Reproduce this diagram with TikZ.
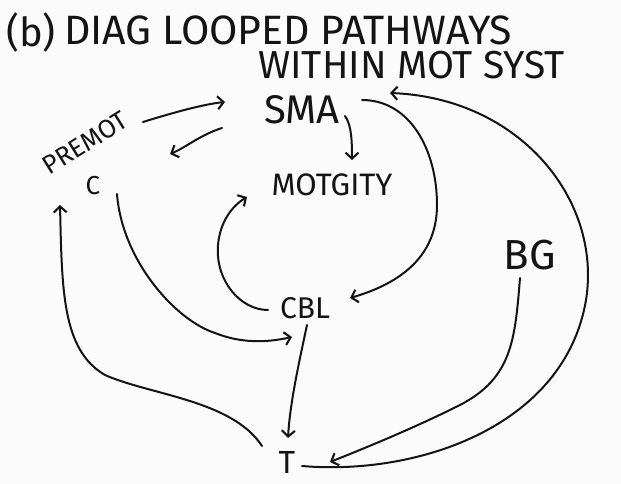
\documentclass[tikz,border=0pt]{standalone}
\usepackage{fontspec}
\setmainfont{Fira Sans}
\usetikzlibrary{arrows.meta,calc}

\definecolor{ink}{HTML}{141414}
\definecolor{paper}{HTML}{FBFBFB}

\tikzset{
  lbl/.style={inner sep=0pt, text=ink},
  penline/.style={draw=ink, line width=2pt, line cap=round, line join=round},
  arr/.style={penline, -{Straight Barb[length=6pt,width=13pt,line width=2.1pt]}},
}
\newcommand{\fs}[1]{\fontsize{#1}{#1}\selectfont}

\begin{document}
\begin{tikzpicture}[x=1pt,y=-1pt]
  \fill[paper] (0,0) rectangle (621,484);
  \useasboundingbox (0,0) rectangle (621,484);

  % heading
  \node[lbl, anchor=west] (badge)  at (6,33)   {\fs{40}(b)};
  \node[lbl, anchor=west] (title1) at (64,30)  {\fs{41}DIAG LOOPED PATHWAYS};
  \node[lbl, anchor=west] (title2) at (258,65) {\fs{39}WITHIN MOT SYST};

  % regions of the motor system
  \node[lbl] (sma)     at (302,110) {\fs{40}SMA};
  \node[lbl, rotate=32] (premot) at (85,143) {\fs{26}PREMOT};
  \node[lbl] (premotc) at (93,186) {\fs{26}C};
  \node[lbl] (motg)    at (332,185) {\fs{31}MOTGITY};
  \node[lbl] (cbl)     at (305,308) {\fs{30}CBL};
  \node[lbl] (bg)      at (530,255) {\fs{42}BG};
  \node[lbl] (thal)    at (287,462) {\fs{32}T};

  % premotor <-> SMA
  \draw[arr] ($(premot)+(58,-21)$) .. controls ($(premot)+(90,-31)$) and ($(sma)+(-97,-6)$) .. ($(sma)+(-77,-8)$);
  \draw[arr] ($(sma)+(-80,18)$) .. controls ($(sma)+(-102,25)$) and ($(premot)+(100,5)$) .. ($(premot)+(85,11)$);

  % SMA -> motor activity
  \draw[arr] ($(sma)+(43,6)$) .. controls ($(sma)+(50,15)$) and ($(motg)+(20,-40)$) .. ($(motg)+(20,-25)$);

  % SMA -> cerebellum
  \draw[arr] ($(sma)+(60,-10)$) .. controls (410,100) and (437,150) .. (437,205)
             .. controls (437,260) and (395,285) .. ($(cbl)+(45,-10)$);

  % cerebellum -> motor activity
  \draw[arr] ($(cbl)+(-37,2)$) .. controls (240,310) and (215,280) .. (218,245)
             .. controls (220,222) and (232,206) .. ($(motg)+(-85,12)$);

  % premotor -> cerebellum
  \draw[arr] ($(premotc)+(24,8)$) .. controls (122,260) and (175,320) .. (215,333)
             .. controls (240,343) and (265,343) .. ($(cbl)+(-13,29)$);

  % cerebellum -> thalamus
  \draw[arr] ($(cbl)+(2,17)$) .. controls ($(cbl)+(-5,50)$) and ($(thal)+(3,-60)$) .. ($(thal)+(1,-24)$);

  % thalamus -> premotor
  \draw[arr] ($(thal)+(-25,-16)$) .. controls (232,400) and (150,395) .. (105,375)
             .. controls (62,350) and (62,290) .. ($(premotc)+(-33,19)$);

  % basal ganglia -> thalamus
  \draw[arr] ($(bg)+(-10,23)$) .. controls (515,340) and (512,378) .. (460,405)
             .. controls (410,430) and (360,450) .. ($(thal)+(43,0)$);

  % thalamus -> SMA
  \draw[arr] ($(thal)+(15,4)$) .. controls (420,476) and (565,425) .. (586,300)
             .. controls (602,200) and (520,98) .. ($(sma)+(88,-17)$);
\end{tikzpicture}
\end{document}
